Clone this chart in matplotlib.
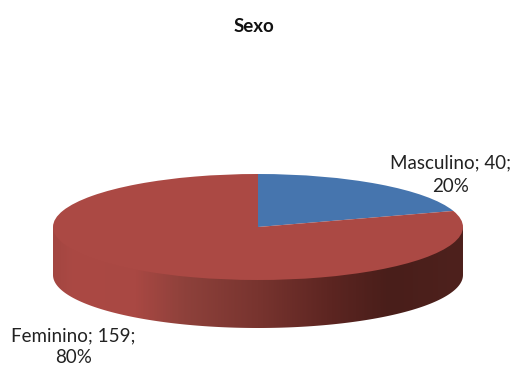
import numpy as np
import matplotlib
matplotlib.use("Agg")
import matplotlib.pyplot as plt
from matplotlib.colors import LinearSegmentedColormap
from matplotlib.patches import PathPatch
from matplotlib.path import Path

plt.rcParams['font.family'] = ['Lato', 'DejaVu Sans']

title = "Sexo"
categories = ["Masculino", "Feminino"]
values = [40, 159]
percents = [20, 80]
colors = ["#4675AE", "#AB4944"]

W, H = 515, 369
cx, cy, rx, ry, depth = 258.0, 227.0, 205.0, 53.0, 48.0

fig = plt.figure(figsize=(W / 100, H / 100), dpi=100, facecolor="white")
ax = fig.add_axes([0, 0, 1, 1])

# side wall gradient, left to right
wall_stops = [(0.0, "#A34641"), (0.05, "#AB4944"), (0.2, "#A94843"), (0.32, "#8E413B"),
              (0.5, "#78342F"), (0.68, "#5C2521"), (0.82, "#491E1A"), (1.0, "#4E211D")]
cmap = LinearSegmentedColormap.from_list("wall", wall_stops)
t = np.linspace(np.pi, 2 * np.pi, 200)
xs = np.cos(t)
ys = np.sin(t)
# the wall region runs up to the ellipse's mid-line, behind the top face, so no seam shows
verts = np.vstack([[[-1, 0]], np.c_[xs, ys - depth / ry], [[1, 0]]])
im = ax.imshow(np.linspace(0, 1, 512)[None, :], cmap=cmap, aspect="auto",
               extent=(-1, 1, -1 - depth / ry, 1), zorder=1)
clip = PathPatch(Path(np.vstack([verts, verts[0]]), closed=True), fc="none", ec="none",
                 transform=ax.transData)
ax.add_patch(clip)
im.set_clip_path(clip)

ax.pie(values, colors=colors, startangle=90, counterclock=False, radius=1,
       wedgeprops=dict(linewidth=0, zorder=2, antialiased=True))
ax.set_aspect("auto")
ax.set_xlim(-cx / rx, (W - cx) / rx)
ax.set_ylim(-(H - cy) / ry, cy / ry)
ax.axis("off")

fig.text(254 / W, 1 - 26 / H, title, ha="center", va="center", fontsize=13.5, fontweight="bold", color="#111111")
fig.text(451 / W, 1 - 175 / H, f"{categories[0]}; {values[0]};\n{percents[0]}%",
         ha="center", va="center", fontsize=13.5, color="#222222", linespacing=1.45)
fig.text(73.5 / W, 1 - 347 / H, f"{categories[1]}; {values[1]};\n{percents[1]}%",
         ha="center", va="center", fontsize=13.5, color="#222222", linespacing=1.35)

fig.savefig("out.png", dpi=100)
